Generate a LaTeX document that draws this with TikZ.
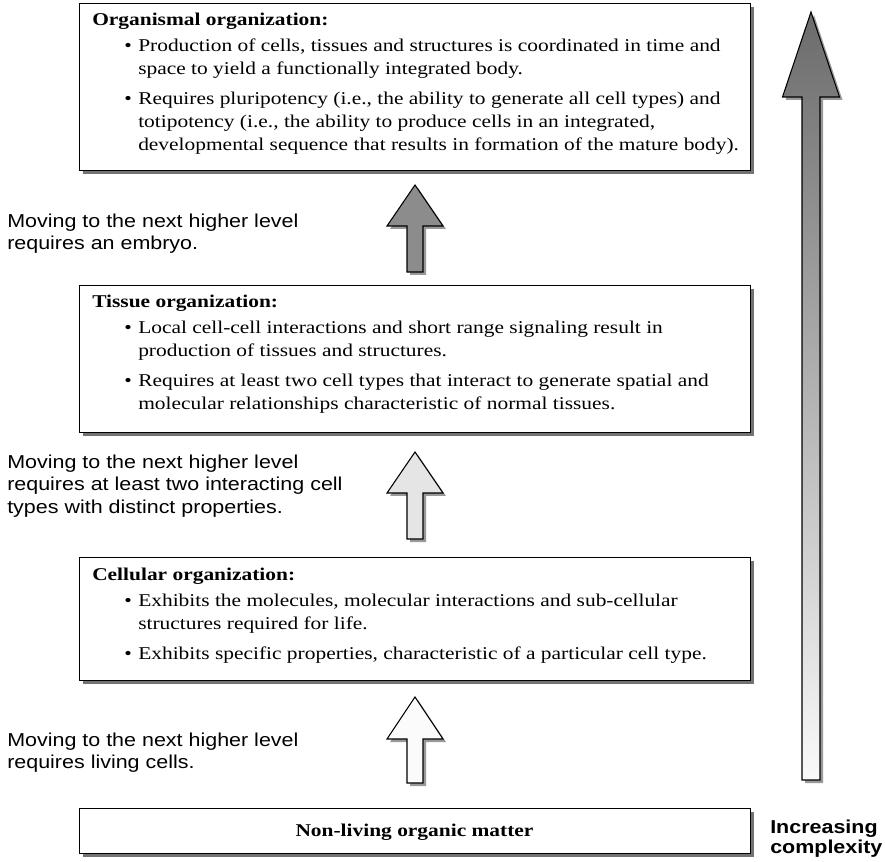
\documentclass[tikz,border=0pt]{standalone}
\usepackage{fontspec}
\setmainfont{Liberation Serif}[FakeStretch=1.19]
\newfontfamily\sansf{Liberation Sans}[FakeStretch=1.15]
\usetikzlibrary{shadows}
\definecolor{shadowgray}{gray}{0.45}
\definecolor{arrowshadow}{gray}{0.6}
\definecolor{darkfill}{gray}{0.55}
\definecolor{lightfill}{gray}{0.9}
\definecolor{whitefill}{gray}{0.985}
\definecolor{bigtop}{gray}{0.42}
\definecolor{bigbottom}{gray}{0.98}
\tikzset{
  boxst/.style={draw=black, line width=0.9pt, fill=white, inner sep=0pt,
    drop shadow={shadow xshift=2.25pt, shadow yshift=-2.25pt, fill=shadowgray, opacity=1}},
  ttl/.style={anchor=base west, inner sep=0pt, font=\fontsize{13.5}{17}\selectfont\bfseries},
  bodytxt/.style={anchor=base west, inner sep=0pt, font=\fontsize{13.5}{17}\selectfont},
  sidetxt/.style={anchor=base west, inner sep=0pt, font=\sansf\fontsize{14}{16.5}\selectfont},
  sidebold/.style={anchor=base west, inner sep=0pt, font=\sansf\bfseries\fontsize{14}{16.5}\selectfont},
  arrowline/.style={draw=black, line width=0.8pt},
}
% block arrow: #1 cx, #2 tip, #3 head base, #4 bottom, #5 head half, #6 shaft half, #7 style
\newcommand\blkarrow[7]{%
  \path[fill=arrowshadow, shift={(3,3)}] (#1,#2) -- (#1+#5,#3) -- (#1+#6,#3) -- (#1+#6,#4) -- (#1-#6,#4) -- (#1-#6,#3) -- (#1-#5,#3) -- cycle;
  \path[#7] (#1,#2) -- (#1+#5,#3) -- (#1+#6,#3) -- (#1+#6,#4) -- (#1-#6,#4) -- (#1-#6,#3) -- (#1-#5,#3) -- cycle;}
\newcommand\mkbox[3]{%
  \pgfmathsetmacro\bh{(#3-#2)*0.75}%
  \node[boxst, minimum width=503.25pt, minimum height=\bh pt, anchor=north west] (#1) at (79,#2) {};}
\begin{document}
\begin{tikzpicture}[x=0.75pt,y=-0.75pt]
\useasboundingbox (0,0) rectangle (885,862);

% big arrow
\blkarrow{811}{12}{97}{780}{28.5}{9}{arrowline, top color=bigtop, bottom color=bigbottom}

% boxes
\mkbox{org}{3}{170}
\mkbox{tis}{285}{432}
\mkbox{cel}{557}{680}
\mkbox{non}{808}{853}

% organismal text
\node[ttl] (orgT) at (92,26) {Organismal organization:};
\node[bodytxt] (orgB1) at (124,52) {\textbullet};
\node[bodytxt] (orgL1) at (138,52) {Production of cells, tissues and structures is coordinated in time and};
\node[bodytxt] (orgL2) at (138,75) {space to yield a functionally integrated body.};
\node[bodytxt] (orgB2) at (124,105) {\textbullet};
\node[bodytxt] (orgL3) at (138,105) {Requires pluripotency (i.e., the ability to generate all cell types) and};
\node[bodytxt] (orgL4) at (138,128) {totipotency (i.e., the ability to produce cells in an integrated,};
\node[bodytxt] (orgL5) at (138,151) {developmental sequence that results in formation of the mature body).};

% tissue text
\node[ttl] (tisT) at (92,308) {Tissue organization:};
\node[bodytxt] (tisB1) at (124,334) {\textbullet};
\node[bodytxt] (tisL1) at (138,334) {Local cell-cell interactions and short range signaling result in};
\node[bodytxt] (tisL2) at (138,357) {production of tissues and structures.};
\node[bodytxt] (tisB2) at (124,387) {\textbullet};
\node[bodytxt] (tisL3) at (138,387) {Requires at least two cell types that interact to generate spatial and};
\node[bodytxt] (tisL4) at (138,410) {molecular relationships characteristic of normal tissues.};

% cellular text
\node[ttl] (celT) at (92,580) {Cellular organization:};
\node[bodytxt] (celB1) at (124,606) {\textbullet};
\node[bodytxt] (celL1) at (138,606) {Exhibits the molecules, molecular interactions and sub-cellular};
\node[bodytxt] (celL2) at (138,629) {structures required for life.};
\node[bodytxt] (celB2) at (124,659) {\textbullet};
\node[bodytxt] (celL3) at (138,659) {Exhibits specific properties, characteristic of a particular cell type.};

% non-living
\node[font=\fontsize{13.5}{17}\selectfont\bfseries, anchor=base, inner sep=0pt] (nonT) at (414.5,836) {Non-living organic matter};

% small arrows
\blkarrow{415}{185}{226}{272}{28}{8}{arrowline, fill=darkfill}
\blkarrow{415}{452}{493}{539}{28}{8}{arrowline, fill=lightfill}
\blkarrow{415}{697}{739}{783}{28}{8}{arrowline, fill=whitefill}

% side texts
\node[sidetxt] (s1a) at (7,228) {Moving to the next higher level};
\node[sidetxt] (s1b) at (7,250) {requires an embryo.};
\node[sidetxt] (s2a) at (7,469) {Moving to the next higher level};
\node[sidetxt] (s2b) at (7,491) {requires at least two interacting cell};
\node[sidetxt] (s2c) at (7,513) {types with distinct properties.};
\node[sidetxt] (s3a) at (7,746) {Moving to the next higher level};
\node[sidetxt] (s3b) at (7,768) {requires living cells.};

\node[sidebold] (inc1) at (770,833) {Increasing};
\node[sidebold] (inc2) at (770,853) {complexity};
\end{tikzpicture}
\end{document}
